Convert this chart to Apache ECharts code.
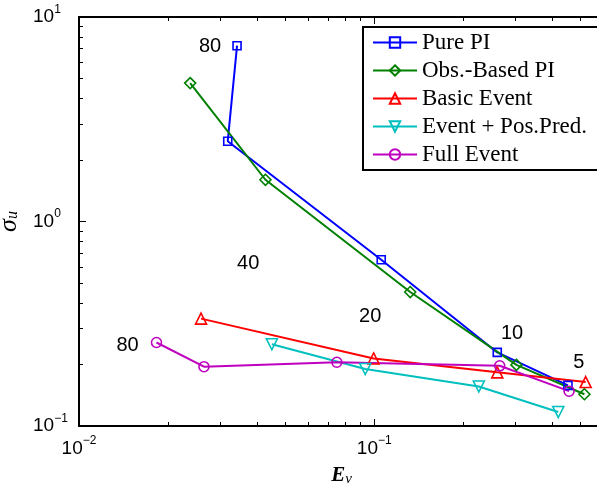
<!DOCTYPE html>
<html>
<head>
<meta charset="utf-8">
<script src="https://cdn.jsdelivr.net/npm/echarts@6/dist/echarts.min.js"></script>
<style>
  html, body { margin: 0; padding: 0; background: #fff; }
  #chart { width: 597px; height: 492px; }
</style>
</head>
<body>
<div id="chart"></div>
<script>
// series data [E_v, sigma_u]
var purePI      = [[0.0343, 7.24], [0.0319, 2.47], [0.1056, 0.650], [0.261, 0.229], [0.453, 0.158]];
var obsBasedPI  = [[0.0238, 4.75], [0.0428, 1.60], [0.1324, 0.452], [0.303, 0.199], [0.515, 0.143]];
var basicEvent  = [[0.0259, 0.335], [0.0995, 0.214], [0.261, 0.183], [0.520, 0.164]];
var eventPos    = [[0.0450, 0.251], [0.0932, 0.190], [0.226, 0.156], [0.420, 0.117]];
var fullEvent   = [[0.0183, 0.256], [0.0265, 0.195], [0.0747, 0.205], [0.266, 0.197], [0.457, 0.148]];

// text annotations [x, y, text]
var notes = [[0.0278, 7.14, '80'], [0.0374, 0.624, '40'], [0.0969, 0.345, '20'],
             [0.293, 0.284, '10'], [0.493, 0.205, '5'], [0.0146, 0.247, '80']];

var xMajorTicks = [0.01, 0.1];
var xMinorTicks = [0.02, 0.03, 0.04, 0.05, 0.06, 0.07, 0.08, 0.09, 0.2, 0.3, 0.4, 0.5, 0.6];
var yMajorTicks = [0.1, 1, 10];
var yMinorTicks = [0.2, 0.3, 0.4, 0.5, 0.6, 0.7, 0.8, 0.9, 2, 3, 4, 5, 6, 7, 8, 9];

var chart = echarts.init(document.getElementById('chart'));

var sansFont = '"Liberation Sans", Arial, sans-serif';
var serifFont = '"Liberation Serif", "Times New Roman", serif';

function powLabel(v) {
    var e = Math.round(Math.log10(v));
    return '{b|10}{s|' + (e < 0 ? '\u2212' + (-e) : e) + '}';
}
var powRich = {
    b: { fontSize: 19, fontFamily: sansFont, color: '#000' },
    s: { fontSize: 12, fontFamily: sansFont, color: '#000', padding: [0, 0, 15, 0] }
};

function logAxis(pos, min, max, ticks, len, showLabel, extra) {
    var a = {
        type: 'log', position: pos, min: min, max: max, logBase: 10,
        axisLine: { show: true, lineStyle: { color: '#000', width: 2 } },
        axisTick: { show: true, inside: true, length: len, customValues: ticks,
                    lineStyle: { color: '#000', width: 1 } },
        axisLabel: { show: showLabel },
        splitLine: { show: false },
        minorTick: { show: false }
    };
    if (showLabel) {
        a.axisLabel = { show: true, customValues: ticks, formatter: powLabel, rich: powRich };
    }
    return Object.assign(a, extra || {});
}

function lineSeries(name, data, color, symbol, size, rot) {
    return {
        name: name, type: 'line', data: data,
        xAxisIndex: 0, yAxisIndex: 0,
        symbol: symbol, symbolSize: size, symbolRotate: rot || 0,
        lineStyle: { color: color, width: 2 },
        itemStyle: { color: 'rgba(255,255,255,0)', borderColor: color, borderWidth: 1.6 },
        emphasis: { disabled: true },
        z: 3
    };
}

var series = [
    lineSeries('Pure PI', purePI, '#0000ff', 'rect', 8),
    lineSeries('Obs.-Based PI', obsBasedPI, '#008000', 'diamond', 11),
    lineSeries('Basic Event', basicEvent, '#ff0000', 'triangle', 11),
    lineSeries('Event + Pos.Pred.', eventPos, '#00bfbf', 'triangle', 11, 180),
    lineSeries('Full Event', fullEvent, '#bf00bf', 'circle', 10)
];

series.push({
    type: 'scatter', xAxisIndex: 0, yAxisIndex: 0,
    symbolSize: 1, silent: true,
    itemStyle: { opacity: 0 },
    data: notes.map(function(n) { return { value: [n[0], n[1]], name: n[2] }; }),
    label: { show: true, position: 'inside', formatter: '{b}', color: '#000', opacity: 1,
             fontSize: 20, fontFamily: sansFont }
});

var option = {
    animation: false,
    backgroundColor: '#fff',
    grid: { left: 79, top: 17, bottom: 66, right: -7, containLabel: false, outerBoundsMode: 'none' },
    legend: {
        data: ['Pure PI', 'Obs.-Based PI', 'Basic Event', 'Event + Pos.Pred.', 'Full Event'],
        orient: 'vertical', left: 363, top: 27,
        itemWidth: 44, itemHeight: 13, itemGap: 5,
        padding: [4, 12, 4, 9],
        borderColor: '#000', borderWidth: 2, backgroundColor: '#fff',
        textStyle: { fontFamily: serifFont, fontSize: 23, color: '#000', lineHeight: 23 },
        selectedMode: false
    },
    xAxis: [
        logAxis('bottom', 0.01, 0.6, xMajorTicks, 7, true, {
            name: '{e|E}{v|v}', nameLocation: 'middle', nameGap: 38,
            nameTextStyle: { rich: {
                e: { fontFamily: serifFont, fontStyle: 'italic', fontWeight: 'bold', fontSize: 21, color: '#000' },
                v: { fontFamily: serifFont, fontStyle: 'italic', fontSize: 15, color: '#000', padding: [8, 0, 0, 0] }
            } }
        }),
        logAxis('bottom', 0.01, 0.6, xMinorTicks, 4, false),
        logAxis('top', 0.01, 0.6, xMajorTicks, 7, false),
        logAxis('top', 0.01, 0.6, xMinorTicks, 4, false)
    ],
    yAxis: [
        logAxis('left', 0.1, 10, yMajorTicks, 7, true, {
            name: '{g|\u03c3}{u|u}', nameLocation: 'middle', nameGap: 56,
            nameTextStyle: { rich: {
                g: { fontFamily: serifFont, fontStyle: 'italic', fontSize: 26, color: '#000' },
                u: { fontFamily: serifFont, fontStyle: 'italic', fontSize: 16, color: '#000', padding: [8, 0, 0, 0] }
            } }
        }),
        logAxis('left', 0.1, 10, yMinorTicks, 4, false)
    ],
    series: series
};
option.yAxis[0].axisLabel.align = 'left';
option.yAxis[0].axisLabel.margin = 46;
option.xAxis[0].axisLabel.margin = 9;

chart.setOption(option);
</script>
</body>
</html>
